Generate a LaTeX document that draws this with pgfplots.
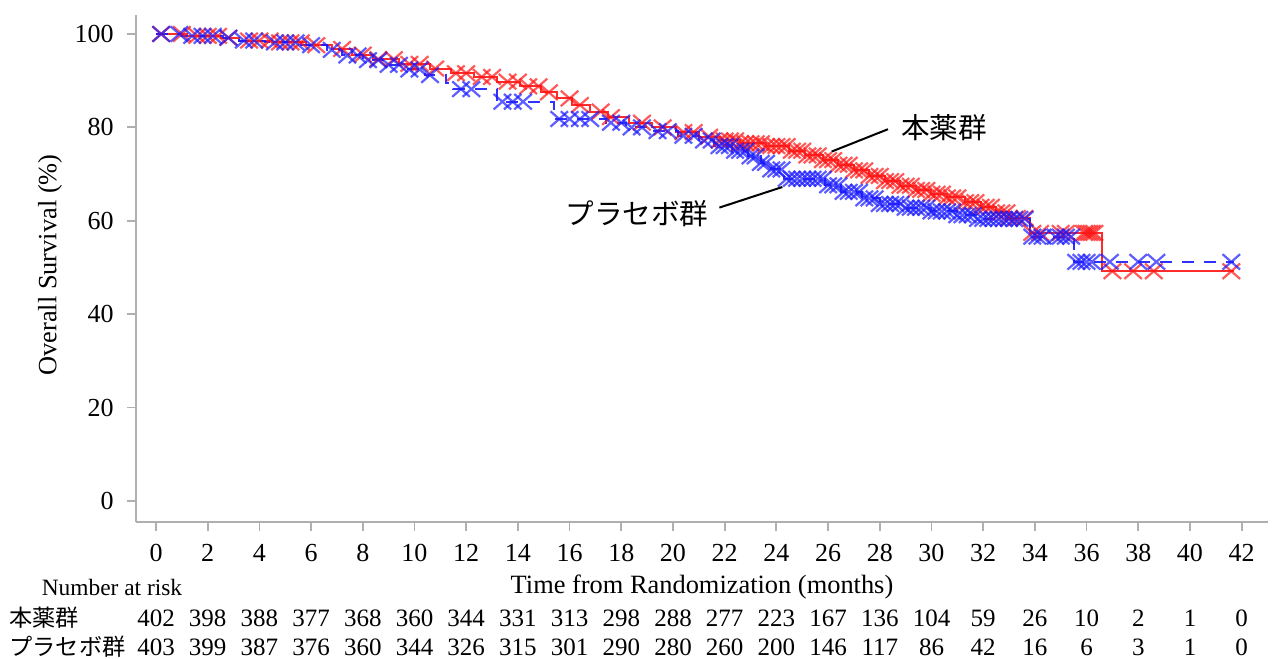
\documentclass[border=0pt]{standalone}
\usepackage{pgfplots}
\pgfplotsset{compat=1.18}
\usepackage{fontspec}
\setmainfont{Liberation Serif}
\newfontfamily\cjk{Noto Sans CJK JP}
\definecolor{kmred}{RGB}{255,20,20}
\definecolor{kmblue}{RGB}{25,25,255}
\definecolor{axgray}{RGB}{175,175,175}
\begin{document}
\begin{tikzpicture}[x=1pt,y=1pt]
\path[use as bounding box] (0,0) rectangle (636,329);
\begin{axis}[
  at={(68pt,68pt)}, anchor=south west,
  scale only axis, width=566pt, height=253.5pt,
  xmin=-0.774, xmax=43.02, ymin=-4.5, ymax=104.07,
  axis x line*=bottom, axis y line*=left,
  axis line style={axgray, line width=0.9pt, -},
  xtick={0,2,...,42}, ytick={0,20,...,100},
  tick align=outside, major tick length=4.5pt,
  tick style={axgray, line width=0.9pt},
  ticklabel style={font=\fontsize{13}{15}\selectfont, inner sep=0pt},
  xticklabel style={anchor=north},
  yticklabel style={anchor=east},
  xticklabel shift=6.5pt, yticklabel shift=6.5pt,
  /pgf/number format/assume math mode=true,
  clip=false,
]
% Kaplan-Meier curves
\addplot[kmred, line width=1pt, const plot, opacity=0.9] coordinates {
(0,100) (1.2,99.6) (2.5,99.2) (3.2,98.6) (4.5,98.2) (5.8,97.6) (6.8,96.8) (7.6,95.6)
(8.4,94.6) (9.4,93.6) (10.6,92.6) (11.4,91.6) (12.3,90.8) (13.2,89.8) (14.1,88.8)
(14.9,87.5) (15.5,86.2) (16.1,84.8) (16.8,83.4) (17.5,82.2) (18.3,81.0) (19.2,80.0)
(20.1,79.0) (21.0,78.0) (21.8,77.2) (22.6,76.6) (23.6,76.0) (24.5,75.0) (25.1,74.0)
(25.8,73.0) (26.4,72.0) (27.0,70.8) (27.6,69.6) (28.2,68.5) (28.8,67.5) (29.4,66.6)
(30.0,65.8) (30.6,65.0) (31.3,64.0) (31.9,63.0) (32.5,61.8) (33.0,60.6) (33.8,57.4)
(36.6,49.2) (41.7,49.2)
};
\addplot[kmblue, line width=1pt, const plot, dash pattern=on 6pt off 5pt, opacity=0.9] coordinates {
(0,100) (1.0,99.6) (2.6,99.2) (3.2,98.6) (4.2,98.2) (5.6,97.6) (6.6,96.6) (7.2,95.4)
(8.0,94.4) (8.8,93.4) (9.6,92.4) (10.4,91.2) (11.2,89.6) (11.5,88.2) (13.2,85.5)
(15.4,81.8) (17.4,81.0) (18.2,80.0) (19.2,79.2) (20.2,78.2) (21.0,77.2) (21.6,76.0)
(22.3,75.0) (22.9,73.8) (23.4,72.4) (23.8,71.0) (24.3,69.0) (25.9,67.6) (26.5,66.2)
(27.3,64.8) (28.0,63.6) (29.0,62.8) (30.0,62.0) (31.0,61.2) (31.8,60.4) (33.8,56.6)
(35.5,51.2) (41.7,51.2)
};
% censor marks
\addplot[only marks, mark=x, mark size=6.2pt, kmred, mark options={line width=1.1pt, opacity=0.7, yscale=0.88}] coordinates {
(0.2,100) (1.0,100) (1.6,99.6) (2.0,99.6) (2.4,99.6) (2.8,99.2) (3.6,98.6) (4.0,98.6)
(4.4,98.6) (4.8,98.2) (5.2,98.2) (5.6,98.2) (6.2,97.6) (7.2,96.8) (8.0,95.6) (8.6,94.6)
(9.2,94.6) (9.8,93.6) (10.2,93.6) (10.8,92.6) (11.6,91.6) (12.0,91.6) (12.6,90.8)
(13.0,90.8) (13.6,89.8) (14.0,89.8) (14.4,88.8) (14.8,88.8) (15.2,87.5) (16.0,86.2)
(16.4,84.8) (17.2,83.4) (17.6,82.2) (18.8,81.0) (19.6,80.0) (20.4,79.0) (20.8,79.0)
(21.4,78.0) (21.8,77.2)
(22.0,77.2) (22.2,77.2) (22.4,77.2) (22.6,76.6) (22.8,76.6) (23.0,76.6) (23.2,76.6)
(23.4,76.6) (23.6,76.0) (23.8,76.0) (24.0,76.0) (24.2,76.0) (24.4,76.0) (24.6,75.0)
(24.8,75.0) (25.0,75.0) (25.2,74.0) (25.4,74.0) (25.6,74.0) (25.8,73.0) (26.0,73.0)
(26.2,73.0) (26.4,72.0) (26.6,72.0) (26.8,72.0) (27.0,70.8) (27.2,70.8) (27.4,70.8)
(27.6,69.6) (27.8,69.6) (28.0,69.6) (28.2,68.5) (28.4,68.5) (28.6,68.5) (28.8,67.5)
(29.0,67.5) (29.2,67.5) (29.4,66.6) (29.6,66.6) (29.8,66.6) (30.0,65.8) (30.2,65.8)
(30.4,65.8) (30.6,65.0) (30.8,65.0) (31.0,65.0) (31.3,64.0) (31.5,64.0) (31.7,64.0)
(31.9,63.0) (32.1,63.0) (32.3,63.0) (32.5,61.8) (32.7,61.8) (32.9,61.8) (33.0,60.6)
(33.3,60.6) (33.6,60.6) (33.9,57.4) (34.2,57.4) (35.0,57.4) (35.2,57.4) (35.9,57.4)
(36.0,57.4) (36.1,57.4) (36.2,57.4) (36.3,57.4)
(37.0,49.2) (37.8,49.2) (38.6,49.2) (41.6,49.2)
};
\addplot[only marks, mark=x, mark size=6.2pt, kmblue, mark options={line width=1.1pt, opacity=0.7, yscale=0.88}] coordinates {
(0.2,100) (0.9,100) (1.4,99.6) (1.8,99.6) (2.2,99.6) (2.8,99.2) (3.4,98.6) (3.8,98.6)
(4.6,98.2) (5.0,98.2) (5.4,98.2) (6.0,97.6) (6.8,96.6) (7.4,95.4) (7.8,95.4) (8.2,94.4)
(8.6,94.4) (9.0,93.4) (9.4,93.4) (9.8,92.4) (10.2,92.4) (10.6,91.2) (11.8,88.2)
(12.2,88.2) (13.4,85.5) (13.8,85.5) (14.2,85.5) (15.6,81.8) (16.0,81.8) (16.4,81.8)
(16.8,81.8) (17.6,81.0) (18.0,81.0) (18.4,80.0) (18.8,80.0) (19.4,79.2) (19.8,79.2)
(20.4,78.2) (20.8,78.2) (21.2,77.2) (21.5,77.2)
(21.8,76.0) (22.0,76.0) (22.2,76.0) (22.4,75.0) (22.6,75.0) (22.8,75.0) (23.0,73.8)
(23.2,73.8) (23.4,72.4) (23.6,72.4) (23.8,71.0) (24.0,71.0) (24.2,71.0) (24.4,69.0)
(24.6,69.0) (24.8,69.0) (25.0,69.0) (25.2,69.0) (25.4,69.0) (25.6,69.0) (25.8,69.0)
(26.0,67.6) (26.2,67.6) (26.4,67.6) (26.6,66.2) (26.8,66.2) (27.0,66.2) (27.2,66.2)
(27.4,64.8) (27.6,64.8) (27.8,64.8) (28.0,63.6) (28.2,63.6) (28.4,63.6) (28.6,63.6)
(28.8,63.6) (29.0,62.8) (29.2,62.8) (29.4,62.8) (29.6,62.8) (29.8,62.8) (30.0,62.0)
(30.2,62.0) (30.4,62.0) (30.6,62.0) (30.8,62.0) (31.0,61.2) (31.2,61.2) (31.4,61.2)
(31.6,61.2) (31.8,60.4) (32.0,60.4) (32.2,60.4) (32.4,60.4) (32.6,60.4) (32.8,60.4)
(33.0,60.4) (33.2,60.4) (33.4,60.4) (33.6,60.4) (33.9,56.6) (34.1,56.6) (34.3,56.6)
(34.8,56.6) (35.0,56.6) (35.2,56.6) (35.4,56.6) (35.6,51.2) (35.8,51.2) (36.0,51.2)
(36.2,51.2) (36.9,51.2) (38.0,51.2) (38.7,51.2) (41.6,51.2)
};
\end{axis}
% axis titles
\node[font=\fontsize{13.2}{15}\selectfont] at (351,35.5) {Time from Randomization (months)};
\node[rotate=90, font=\fontsize{13.2}{15}\selectfont] at (25,196.5) {Overall Survival (\%)};
% curve labels
\node[font=\cjk\fontsize{14.3}{16}\selectfont] at (472,265) {本薬群};
\draw[line width=1pt] (415.8,253.2) -- (444,264.4);
\node[font=\cjk\fontsize{14.3}{16}\selectfont] at (318.5,222) {プラセボ群};
\draw[line width=1pt] (359.7,225.2) -- (391.2,235.5);
% number at risk table
\node[font=\fontsize{11.7}{14}\selectfont] at (56,35.5) {Number at risk};
\node[anchor=west, inner sep=0pt, font=\cjk\fontsize{11.6}{14}\selectfont] at (4.5,20) {本薬群};
\node[anchor=west, inner sep=0pt, font=\cjk\fontsize{11.6}{14}\selectfont] at (4.5,5.5) {プラセボ群};
\foreach \n [count=\i from 0] in {402,398,388,377,368,360,344,331,313,298,288,277,223,167,136,104,59,26,10,2,1,0}
  \node[font=\fontsize{12.5}{14}\selectfont] at (78+25.85*\i,20) {\n};
\foreach \n [count=\i from 0] in {403,399,387,376,360,344,326,315,301,290,280,260,200,146,117,86,42,16,6,3,1,0}
  \node[font=\fontsize{12.5}{14}\selectfont] at (78+25.85*\i,5.5) {\n};
\end{tikzpicture}
\end{document}
